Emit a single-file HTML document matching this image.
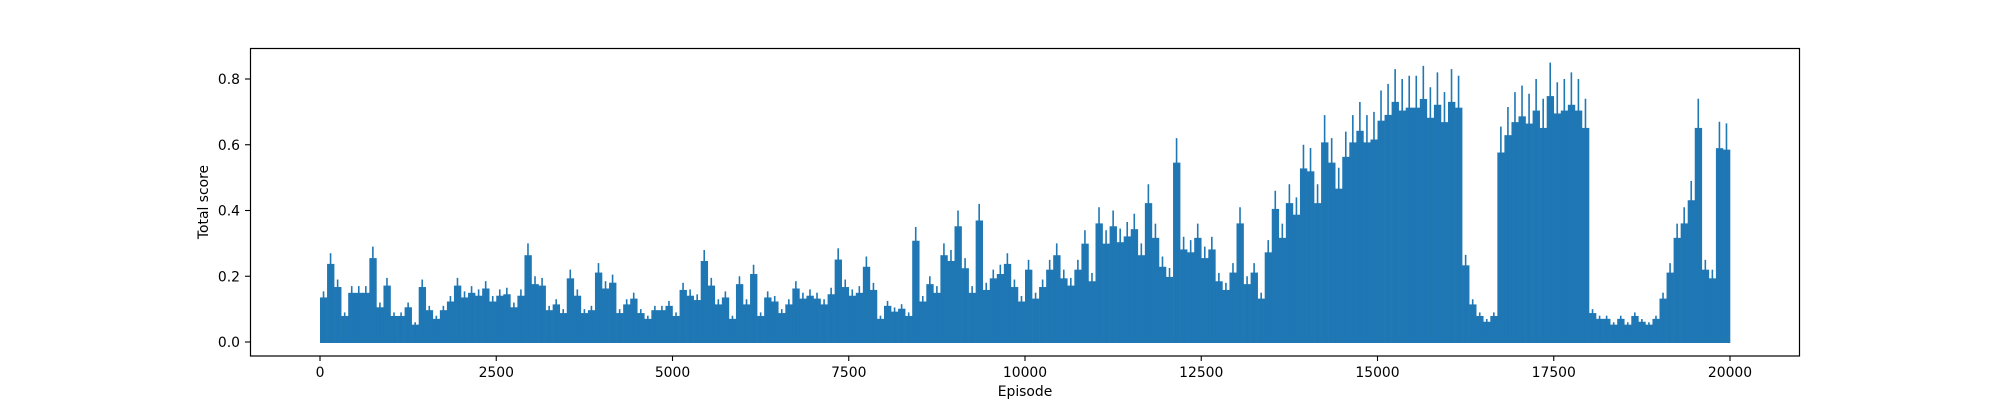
<!DOCTYPE html>
<html><head><meta charset="utf-8"><style>
html,body{margin:0;padding:0;background:#fff;}
svg text{font-family:"DejaVu Sans","Liberation Sans",sans-serif;font-size:13.9px;fill:#000;}
</style></head><body>
<svg id="chart" width="2000" height="400" xmlns="http://www.w3.org/2000/svg">
<rect x="0" y="0" width="2000" height="400" fill="#fff"/>
<g id="plot"></g>
<rect x="250.5" y="48.5" width="1549" height="307.5" fill="none" stroke="#000" stroke-width="1.2"/>
<g id="xticks"></g>
<g id="yticks"></g>
<text x="1025" y="396" text-anchor="middle">Episode</text>
<text x="0" y="0" text-anchor="middle" transform="translate(208,202) rotate(-90)">Total score</text>
</svg>
<script>
const binSize = 100;
const peaks = [0.154,0.27,0.19,0.09,0.17,0.17,0.17,0.29,0.12,0.195,0.09,0.09,0.12,0.06,0.19,0.11,0.08,0.11,0.14,0.195,
0.154,0.17,0.16,0.185,0.14,0.16,0.165,0.12,0.16,0.30,0.2,0.195,0.11,0.13,0.10,0.22,0.16,0.10,0.11,0.24,
0.185,0.205,0.10,0.13,0.15,0.10,0.08,0.11,0.11,0.125,0.09,0.18,0.16,0.145,0.28,0.195,0.13,0.154,0.08,0.2,
0.13,0.235,0.09,0.154,0.14,0.10,0.13,0.185,0.15,0.16,0.15,0.13,0.165,0.285,0.19,0.16,0.17,0.26,0.18,0.08,
0.125,0.105,0.115,0.09,0.35,0.14,0.20,0.17,0.30,0.28,0.40,0.255,0.17,0.42,0.18,0.22,0.235,0.27,0.19,0.14,
0.25,0.15,0.19,0.25,0.30,0.22,0.195,0.25,0.34,0.21,0.41,0.34,0.40,0.345,0.365,0.39,0.30,0.48,0.36,0.26,
0.225,0.62,0.32,0.31,0.36,0.29,0.32,0.21,0.18,0.24,0.41,0.20,0.24,0.15,0.31,0.46,0.36,0.48,0.44,0.60,
0.59,0.48,0.69,0.62,0.53,0.64,0.69,0.73,0.69,0.70,0.765,0.785,0.83,0.80,0.81,0.81,0.84,0.775,0.82,0.76,
0.83,0.81,0.265,0.13,0.09,0.07,0.09,0.655,0.715,0.76,0.78,0.755,0.80,0.74,0.85,0.79,0.80,0.82,0.80,0.74,
0.10,0.08,0.08,0.06,0.08,0.06,0.09,0.07,0.06,0.08,0.15,0.24,0.36,0.41,0.49,0.74,0.25,0.22,0.67,0.665];
const xTicks = [0,2500,5000,7500,10000,12500,15000,17500,20000];
const yTicks = [0.0,0.2,0.4,0.6,0.8];

const NS = "http://www.w3.org/2000/svg";
function xs(e){ return 320 + (e - 0) * (1410/20000); }
function ys(v){ return 342 - v * (263/0.8); }

const plot = document.getElementById('plot');
const color = "#1f77b4";
peaks.forEach((p,i)=>{
  const e0 = i*binSize, e1 = (i+1)*binSize;
  const r = document.createElementNS(NS,'rect');
  
  
  const body = p*0.88;
  r.setAttribute('x', xs(e0)); r.setAttribute('width', xs(e1)-xs(e0)+0.3);
  r.setAttribute('y', ys(body)); r.setAttribute('height', ys(0)-ys(body)+1);
  r.setAttribute('fill', color);
  plot.appendChild(r);
  const l = document.createElementNS(NS,'line');
  
  
  const xm = xs(e0 + binSize*0.5);
  l.setAttribute('x1', xm); l.setAttribute('x2', xm);
  l.setAttribute('y1', ys(0)); l.setAttribute('y2', ys(p));
  l.setAttribute('stroke', color); l.setAttribute('stroke-width', 1.6);
  plot.appendChild(l);
});

const xg = document.getElementById('xticks');
xTicks.forEach(t=>{
  const x = xs(t);
  const l = document.createElementNS(NS,'line');
  
  
  l.setAttribute('x1', x); l.setAttribute('x2', x); l.setAttribute('y1', 356); l.setAttribute('y2', 361);
  l.setAttribute('stroke', '#000'); l.setAttribute('stroke-width', 1.1);
  xg.appendChild(l);
  const tx = document.createElementNS(NS,'text');
  
  
  tx.setAttribute('x', x); tx.setAttribute('y', 377); tx.setAttribute('text-anchor', 'middle');
  tx.textContent = t;
  xg.appendChild(tx);
});
const yg = document.getElementById('yticks');
yTicks.forEach(t=>{
  const y = ys(t);
  const l = document.createElementNS(NS,'line');
  
  
  l.setAttribute('x1', 245); l.setAttribute('x2', 250); l.setAttribute('y1', y); l.setAttribute('y2', y);
  l.setAttribute('stroke', '#000'); l.setAttribute('stroke-width', 1.1);
  yg.appendChild(l);
  const tx = document.createElementNS(NS,'text');
  
  
  tx.setAttribute('x', 240); tx.setAttribute('y', y+5); tx.setAttribute('text-anchor', 'end');
  tx.textContent = t.toFixed(1);
  yg.appendChild(tx);
});
</script>
</body></html>
